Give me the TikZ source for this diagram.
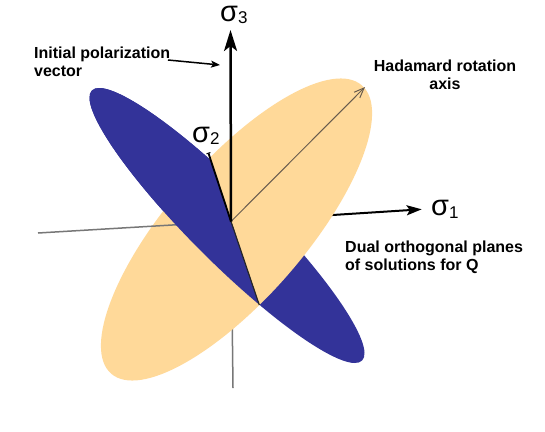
\documentclass[tikz,border=0pt]{standalone}
\usepackage{fontspec}
\setmainfont{Liberation Sans}
\usetikzlibrary{arrows.meta,calc}
\definecolor{peach}{RGB}{255,217,153}
\definecolor{navy}{RGB}{51,51,153}
\definecolor{axgray}{RGB}{119,119,119}
\definecolor{hadcol}{RGB}{105,92,78}
\begin{document}
\begin{tikzpicture}[x=1pt,y=-1pt,
  lbl/.style={font=\fontsize{16}{17.8}\selectfont\bfseries, inner sep=0pt},
  sig/.style={font=\fontsize{29}{29}\selectfont, inner sep=0pt, anchor=base west, text height=15.5pt, text depth=3pt},
  gaxis/.style={axgray, line width=1.5pt},
  bluedisc/.style={navy, rotate around={-45:(bc)}},
  peachdisc/.style={peach, rotate around={49:(oc)}}]
\useasboundingbox (0,0) rectangle (545,431);
\fill[white] (0,0) rectangle (545,431);
% key points
\coordinate (O) at (231,221.5);
\coordinate (oc) at (236.5,229.5);
\coordinate (bc) at (227,225.5);
\coordinate (s2) at (208.3,152.7);
\coordinate (low) at (259.3,305);
\coordinate (vb) at (233,388);
\coordinate (hl) at (38,233);
\coordinate (s3) at (230.5,30);
\coordinate (s1) at (421.7,209.3);
\coordinate (had) at (365,87);
\coordinate (ps) at (168,60);
\coordinate (pe) at (220,65);
% back parts
\draw[gaxis] (O) -- (vb);
\draw[line width=2pt, -{Stealth[length=15pt,width=10pt,inset=3pt]}] (O) -- (s1);
\fill[bluedisc] (bc) ellipse [x radius=191pt, y radius=36.4pt];
\fill[peachdisc] (oc) ellipse [x radius=191pt, y radius=68.5pt];
\draw[gaxis] (hl) -- (O);
% front half of the blue plane
\begin{scope}
  \clip ($(s2)!-1.1!(low)$) -- ($(low)!-0.85!(s2)$) -- (0,431) -- (0,0) -- cycle;
  \fill[bluedisc] (bc) ellipse [x radius=191pt, y radius=36.4pt];
\end{scope}
% lines and arrows
\draw[line width=1.2pt, black!85] (O) -- (low);
\draw[line width=1.8pt, -{Bar[width=4pt,line width=1pt]}] (O) -- (s2);
\draw[hadcol, line width=1pt, -{Straight Barb[length=10pt,width=8pt]}] (O) -- (had);
\draw[line width=2.5pt, -{Stealth[length=21pt,width=13pt,inset=5pt]}] (O) -- (s3);
\draw[line width=1.5pt, -{Stealth[length=9pt,width=7pt,inset=2pt]}] (ps) -- (pe);
% labels
\node[sig] (l3) at (220,21.5) {σ{\fontsize{17}{17}\selectfont\raisebox{-2pt}{3}}};
\node[sig] (l2) at (192,142) {σ{\fontsize{17}{17}\selectfont\raisebox{-2pt}{2}}};
\node[sig] (l1) at (431,215) {σ{\fontsize{17}{17}\selectfont\raisebox{-3pt}{1}}};
\node[lbl, anchor=base west, align=left] (tpol) at (34,76.5) {Initial polarization\\vector};
\node[lbl, anchor=base, align=center] (thad) at (445,89.3) {Hadamard rotation\\axis};
\node[lbl, anchor=base west, align=left] (tdual) at (345,270.5) {Dual orthogonal planes\\of solutions for Q};
\end{tikzpicture}
\end{document}
